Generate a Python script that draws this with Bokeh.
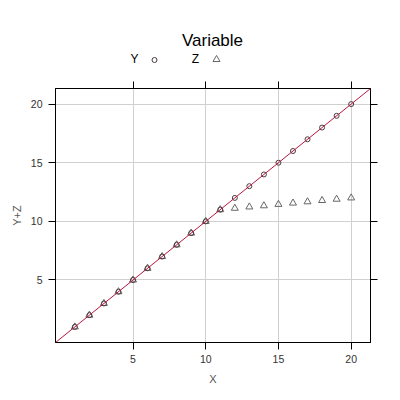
from bokeh.plotting import figure
from bokeh.models import Range1d, LinearAxis, FixedTicker, ColumnDataSource, Slope
from bokeh.layouts import column
from bokeh.embed import file_html
from bokeh.resources import INLINE
from bokeh.core.properties import value

# ---- data ----
x_vals = [1, 2, 3, 4, 5, 6, 7, 8, 9, 10, 11, 12, 13, 14, 15, 16, 17, 18, 19, 20]
y_vals = [1, 2, 3, 4, 5, 6, 7, 8, 9, 10, 11, 12, 13, 14, 15, 16, 17, 18, 19, 20]
z_vals = [1, 2, 3, 4, 5, 6, 7, 8, 9, 10, 11,
          11.12, 11.23, 11.33, 11.45, 11.56, 11.67, 11.78, 11.89, 12.0]
tick_vals = [5, 10, 15, 20]
title_text = "Variable"
legend_labels = ["Y", "Z"]
x_label = "X"
y_label = "Y+Z"

FONT = "Liberation Sans"
CIRCLE_COL = "#4a3a3e"
TRI_COL = "#666666"
LINE_COL = "#b8173f"

# main frame spans page x 55..370, y 88..342
FL, FR = 55, 370
FW, FH = FR - FL, 254
TOP_H = 72

# ---- header figure (title + key); its frame is aligned with the main frame ----
top = figure(frame_width=FW, height=TOP_H, x_range=Range1d(FL, FR), y_range=Range1d(TOP_H, 0),
             output_backend="svg", toolbar_location=None,
             min_border_left=FL, min_border_right=22, min_border_top=0, min_border_bottom=0)
top.axis.visible = False
top.grid.visible = False
top.outline_line_color = None
top.text(x=[212], y=[40], text=[title_text], text_font=value(FONT), text_font_size="17px",
         text_align="center", text_baseline="alphabetic", text_color="#000000")
top.text(x=[134, 195], y=[58.5, 58.5], text=legend_labels, text_font=value(FONT),
         text_font_size="12px", text_align="center", text_baseline="alphabetic",
         text_color="#000000")
top.scatter(x=[154], y=[59.5], marker="circle", size=5, fill_color=None,
            line_color=CIRCLE_COL, line_width=1)
top.scatter(x=[216], y=[59], marker="triangle", size=7, fill_color=None,
            line_color=TRI_COL, line_width=1)

# ---- main figure ----
p = figure(frame_width=FW, frame_height=FH,
           x_range=Range1d(-0.33, 21.33), y_range=Range1d(-0.33, 21.33),
           output_backend="svg", toolbar_location=None,
           min_border_left=FL, min_border_right=22, min_border_top=88 - TOP_H,
           min_border_bottom=50,
           x_axis_label=x_label, y_axis_label=y_label)
p.outline_line_color = "#000000"
p.outline_line_width = 1

for ax in [p.xaxis[0], p.yaxis[0]]:
    ax.ticker = FixedTicker(ticks=tick_vals)
    ax.major_tick_out = 7
    ax.major_tick_in = 0
    ax.minor_tick_line_color = None
    ax.axis_line_color = "#000000"
    ax.major_tick_line_color = "#000000"
    ax.major_label_text_font = FONT
    ax.major_label_text_font_size = "10.5px"
    ax.major_label_text_color = "#333333"
    ax.axis_label_text_font = FONT
    ax.axis_label_text_font_size = "11px"
    ax.axis_label_text_font_style = "normal"
    ax.axis_label_text_color = "#555555"
p.xaxis[0].major_label_standoff = 5
p.xaxis[0].axis_label_standoff = 7
p.yaxis[0].major_label_standoff = 6
p.yaxis[0].axis_label_standoff = 5

for loc in ["above", "right"]:
    ax = LinearAxis(ticker=FixedTicker(ticks=tick_vals), major_tick_out=7, major_tick_in=0,
                    minor_tick_line_color=None,
                    major_label_overrides={t: "" for t in tick_vals},
                    major_label_standoff=0, axis_line_color="#000000",
                    major_tick_line_color="#000000")
    p.add_layout(ax, loc)

p.xgrid.ticker = FixedTicker(ticks=tick_vals)
p.ygrid.ticker = FixedTicker(ticks=tick_vals)
p.grid.grid_line_color = "#d0d0d0"
p.grid.grid_line_width = 1

src = ColumnDataSource(data=dict(x=x_vals, y=y_vals, z=z_vals))
p.scatter("x", "z", source=src, marker="triangle", size=7, fill_color=None,
          line_color=TRI_COL, line_width=1)
p.scatter("x", "y", source=src, marker="circle", size=5, fill_color=None,
          line_color=CIRCLE_COL, line_width=1)
p.add_layout(Slope(gradient=1, y_intercept=0, line_color=LINE_COL, line_width=1))

layout = column(top, p, spacing=0)
open("out.html", "w").write(file_html(layout, INLINE))
